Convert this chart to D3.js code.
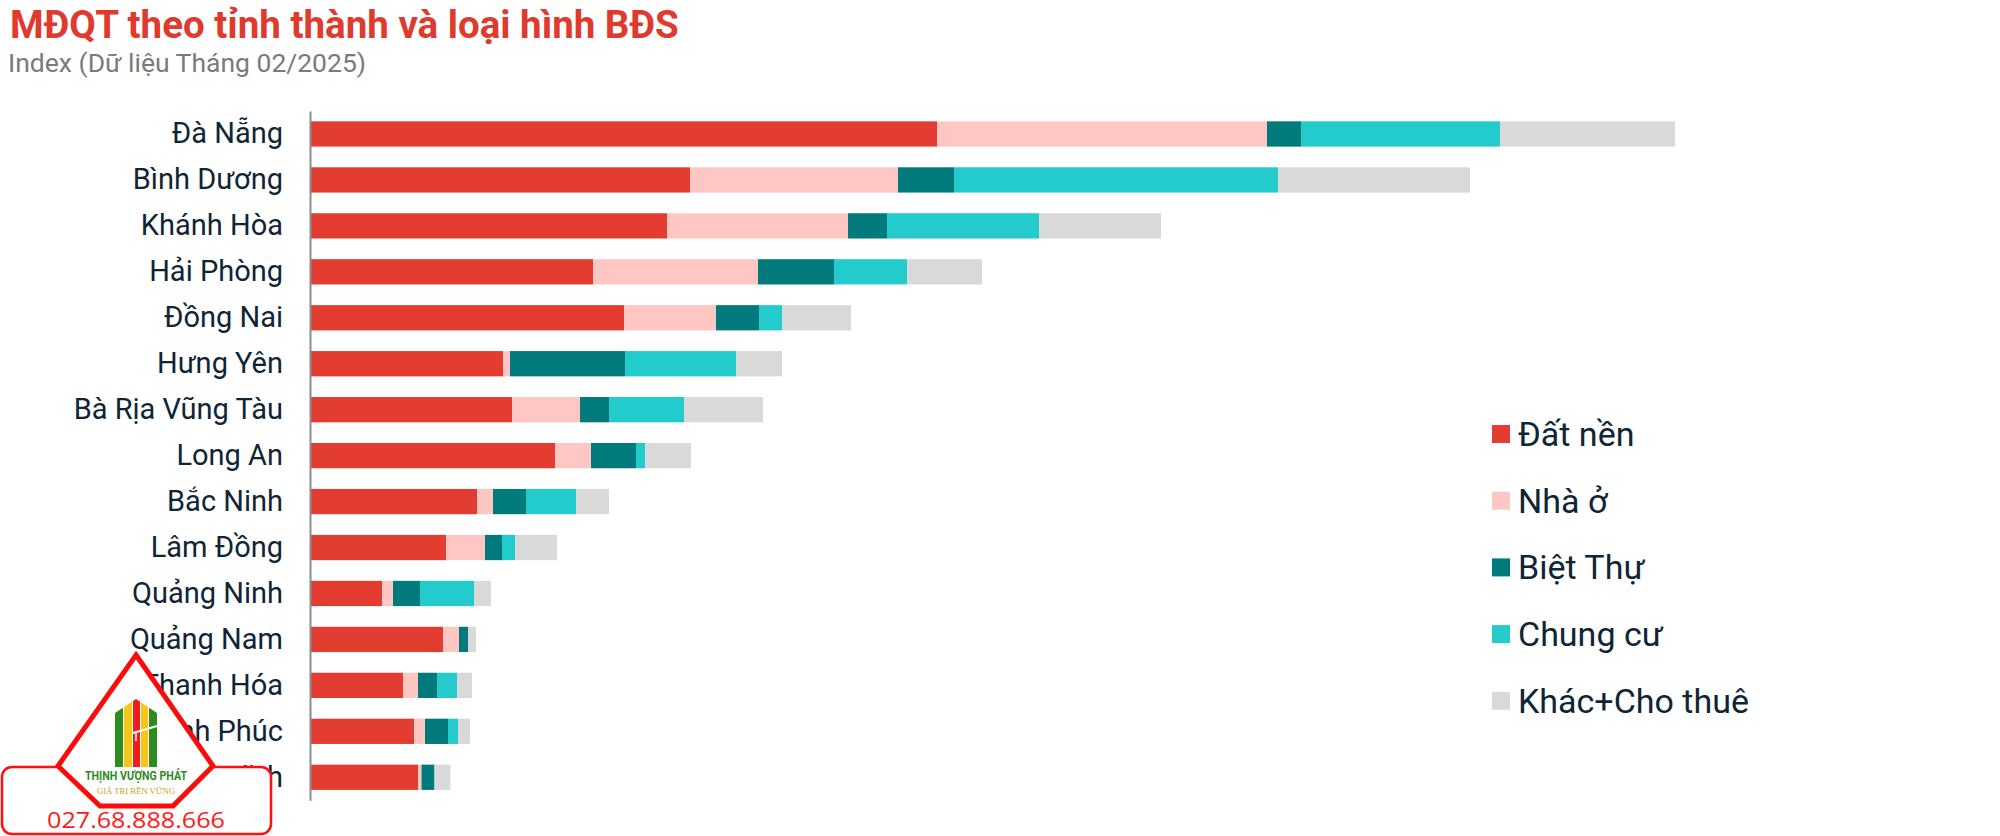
<!DOCTYPE html>
<html>
<head>
<meta charset="utf-8">
<script src="https://cdn.jsdelivr.net/npm/d3@7"></script>
<style>
  body { margin: 0; background: #fff; }
  svg { display: block; font-family: Roboto, "Noto Sans", sans-serif; }
</style>
</head>
<body>
<div id="d3-container"></div>
<script>
// data (Index, Tháng 02/2025)
const provinces = ["Đà Nẵng", "Bình Dương", "Khánh Hòa", "Hải Phòng", "Đồng Nai", "Hưng Yên",
  "Bà Rịa Vũng Tàu", "Long An", "Bắc Ninh", "Lâm Đồng", "Quảng Ninh", "Quảng Nam",
  "Thanh Hóa", "Vĩnh Phúc", "Hà Tĩnh"];
const datNen  = [62.7, 38.0, 35.7, 28.3, 31.4, 19.3, 20.2, 24.5, 16.7, 13.6, 7.2, 13.3, 9.3, 10.4, 10.8];
const nhaO    = [33.0, 20.8, 18.1, 16.5, 9.2, 0.7, 6.8, 3.6, 1.6, 3.9, 1.1, 1.6, 1.5, 1.1, 0.35];
const bietThu = [3.4, 5.6, 3.9, 7.6, 4.3, 11.5, 2.9, 4.5, 3.3, 1.7, 2.7, 0.9, 1.9, 2.3, 1.3];
const chungCu = [19.9, 32.4, 15.2, 7.3, 2.3, 11.1, 7.5, 0.9, 5.0, 1.3, 5.4, 0, 2.0, 1.0, 0];
const khac    = [17.5, 19.2, 12.2, 7.5, 6.9, 4.6, 7.9, 4.6, 3.3, 4.2, 1.7, 0.8, 1.5, 1.2, 1.6];

const seriesNames = ["Đất nền", "Nhà ở", "Biệt Thự", "Chung cư", "Khác+Cho thuê"];
const colors = ["#e33d31", "#ffc7c4", "#007a7b", "#23cbcc", "#d9d9d9"];

const title = "MĐQT theo tỉnh thành và loại hình BĐS";
const subtitle = "Index (Dữ liệu Tháng 02/2025)";

const width = 2000;
const height = 836;
const margin = { top: 111, bottom: 36, left: 310, right: 290 };

const keys = ["datNen", "nhaO", "bietThu", "chungCu", "khac"];
const rows = provinces.map((p, i) => ({
  name: p, datNen: datNen[i], nhaO: nhaO[i], bietThu: bietThu[i], chungCu: chungCu[i], khac: khac[i]
}));
const stacked = d3.stack().keys(keys)(rows);

const svg = d3.select('#d3-container')
  .append('svg')
  .attr('width', width)
  .attr('height', height)
  .attr("viewBox", [0, 0, width, height]);

const x = d3.scaleLinear()
  .domain([0, 140])
  .range([margin.left, margin.left + 1400]);

const y = d3.scaleBand()
  .domain(provinces)
  .range([margin.top, margin.top + 15 * 45.95])
  .paddingInner(0.45)
  .paddingOuter(0.225);

// titles
svg.append("text")
  .attr("x", 10).attr("y", 38)
  .attr("fill", "#e0392d")
  .attr("font-size", "38.5px")
  .attr("font-weight", 700)
  .text(title);

svg.append("text")
  .attr("x", 8).attr("y", 72)
  .attr("fill", "#7a7a7a")
  .attr("font-size", "26.5px")
  .text(subtitle);

// bars
svg.append("g")
  .selectAll("g")
  .data(stacked)
  .join("g")
    .attr("fill", (d, i) => colors[i])
  .selectAll("rect")
  .data(d => d)
  .join("rect")
    .attr("x", d => x(d[0]))
    .attr("y", d => y(d.data.name))
    .attr("width", d => x(d[1]) - x(d[0]))
    .attr("height", y.bandwidth());

function yAxis(g) {
  g.attr("transform", `translate(${margin.left}, 0)`)
    .call(d3.axisLeft(y).tickSize(0).tickPadding(27).tickSizeOuter(0))
    .attr("font-size", '29px')
    .attr("font-family", 'Roboto, sans-serif')
  g.select(".domain").attr("stroke", "#8c8c8c").attr("stroke-width", 2)
  g.selectAll(".tick text").attr("fill", "#0f2536")
}
svg.append("g").call(yAxis);

// legend
const legend = svg.append("g")
  .selectAll("g")
  .data(seriesNames)
  .join("g")
    .attr("transform", (d, i) => `translate(1492, ${425 + i * 66.7})`);

legend.append("rect")
  .attr("width", 18).attr("height", 18)
  .attr("fill", (d, i) => colors[i]);

legend.append("text")
  .attr("x", 26).attr("y", 9)
  .attr("dy", "0.35em")
  .attr("font-size", "34px")
  .attr("fill", "#0f2536")
  .text(d => d);

// watermark logo
const logo = svg.append("g");
logo.append("rect")
  .attr("x", 2).attr("y", 767).attr("width", 269).attr("height", 67).attr("rx", 10)
  .attr("fill", "#fff").attr("stroke", "#ff1010").attr("stroke-width", 2.5);
logo.append("polygon")
  .attr("points", "136,655 213,766 173,806 100,806 58,766")
  .attr("fill", "#fff").attr("stroke", "#ff0a0a").attr("stroke-width", 5)
  .attr("stroke-linejoin", "miter");

const clip = svg.append("clipPath").attr("id", "house");
clip.append("polygon").attr("points", "115,767 115,713 136,699 157,713 157,767");
const stripes = [[115, 123, "#2e8b1e"], [124, 132, "#f5c518"], [133, 140, "#ee1c1c"], [141, 148, "#f5c518"], [149, 157, "#2e8b1e"]];
logo.append("g").attr("clip-path", "url(#house)")
  .selectAll("rect").data(stripes).join("rect")
    .attr("x", d => d[0]).attr("width", d => d[1] - d[0])
    .attr("y", 695).attr("height", 72)
    .attr("fill", d => d[2]);
logo.append("line")
  .attr("x1", 133).attr("y1", 733).attr("x2", 157).attr("y2", 726)
  .attr("stroke", "#fff").attr("stroke-width", 2);
logo.append("line")
  .attr("x1", 136).attr("y1", 732).attr("x2", 136).attr("y2", 741)
  .attr("stroke", "#fff").attr("stroke-width", 1.5);

logo.append("text")
  .attr("x", 85).attr("y", 780)
  .attr("textLength", 102).attr("lengthAdjust", "spacingAndGlyphs")
  .attr("font-size", "12px").attr("font-weight", 700)
  .attr("fill", "#2e8b1e")
  .text("THỊNH VƯỢNG PHÁT");
logo.append("text")
  .attr("x", 97).attr("y", 794)
  .attr("textLength", 78).attr("lengthAdjust", "spacingAndGlyphs")
  .attr("font-size", "8px").attr("font-family", '"Liberation Serif", serif')
  .attr("fill", "#c9a227")
  .text("GIÁ TRỊ BỀN VỮNG");
logo.append("text")
  .attr("x", 47).attr("y", 828)
  .attr("textLength", 178).attr("lengthAdjust", "spacingAndGlyphs")
  .attr("font-size", "21px").attr("font-family", '"Open Sans", sans-serif')
  .attr("fill", "#ff1a1a")
  .text("027.68.888.666");
</script>
</body>
</html>
